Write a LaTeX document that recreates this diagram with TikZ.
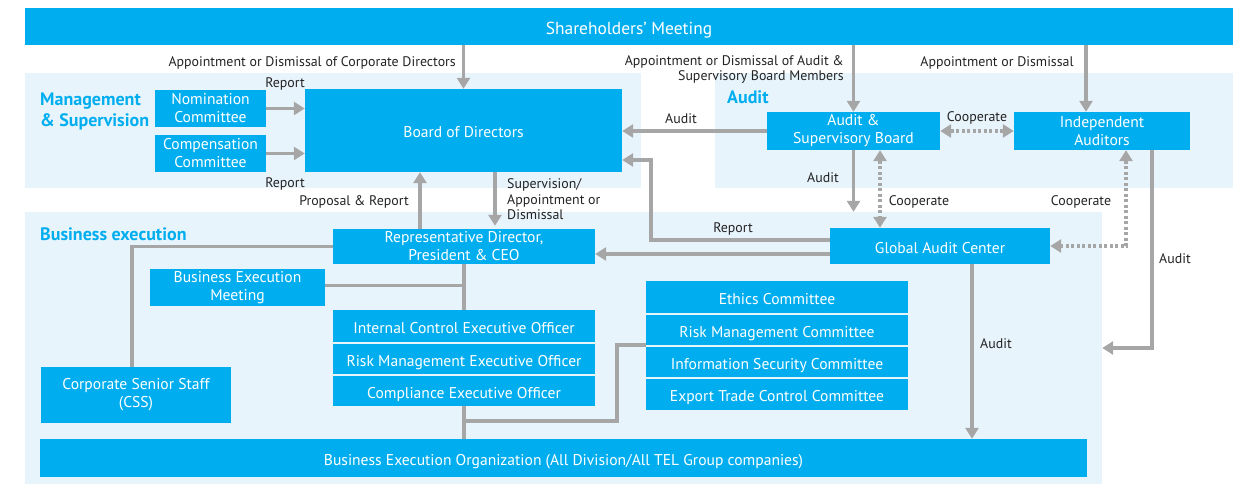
\documentclass[tikz,border=0pt]{standalone}
\usepackage{fontspec}
\setmainfont{PT Sans}
\usetikzlibrary{arrows.meta,calc}
\definecolor{boxc}{RGB}{0,174,239}
\definecolor{panelc}{RGB}{232,244,252}
\definecolor{linec}{RGB}{166,166,166}
\definecolor{txtc}{RGB}{35,35,35}
\newcommand{\rbox}[7]{\node[#1,minimum width={(#5-#3)*1pt},minimum height={(#6-#4)*1pt}] (#2) at ({(#3+#5)/2},{(#4+#6)/2}) {#7};}
\tikzset{
  box/.style={fill=boxc,text=white,inner sep=0pt,align=center,font=\fontsize{15.6}{18}\selectfont},
  boxone/.style={box,text height=14pt,text depth=0pt},
  panel/.style={fill=panelc,inner sep=0pt},
  lbl/.style={text=txtc,inner sep=0pt,yshift=-1.5pt,font=\fontsize{13.9}{15.5}\selectfont},
  ttl/.style={text=boxc,inner sep=0pt,align=left,font=\bfseries\fontsize{18}{21}\selectfont},
  ln/.style={draw=linec,line width=3.5pt},
  arr/.style={ln,-{Triangle[width=13pt,length=11pt]}},
  darr/.style={ln,dash pattern=on 3pt off 2.5pt,{Triangle[width=13pt,length=11pt]}-{Triangle[width=13pt,length=11pt]}},
}
\begin{document}
\begin{tikzpicture}[x=1pt,y=-1pt]
\useasboundingbox (0,0) rectangle (1233,484);
% panels
\rbox{panel}{mgmtpanel}{25}{73}{641}{188}{}
\rbox{panel}{auditpanel}{715}{73}{1233}{188}{}
\rbox{panel}{bizpanel}{25}{212}{1102}{484}{}
% titles
\node[ttl,anchor=west] (tmgmt) at (40,112) {Management\\\& Supervision};
\node[ttl,anchor=west] (taudit) at (727,97) {Audit};
\node[ttl,anchor=west] (tbiz) at (40,234) {Business execution};
% boxes
\rbox{boxone,text height=16.2pt,font=\fontsize{17.4}{19}\selectfont}{sh}{25}{8}{1233}{45}{Shareholders' Meeting}
\rbox{box}{nom}{155}{90}{266}{127}{Nomination\\Committee}
\rbox{box}{comp}{155}{135}{266}{172}{Compensation\\Committee}
\rbox{boxone}{bod}{305}{89}{622}{172}{Board of Directors}
\rbox{box}{asb}{767}{112}{940}{150}{Audit \&\\Supervisory Board}
\rbox{box}{ia}{1014}{112}{1190}{150}{Independent\\Auditors}
\rbox{box}{rep}{333}{229}{595}{264}{Representative Director,\\President \& CEO}
\rbox{boxone}{gac}{830}{228}{1050}{264}{Global Audit Center}
\rbox{box}{bem}{150}{269}{325}{306}{Business Execution\\Meeting}
\rbox{boxone}{ico}{333}{310}{595}{342}{Internal Control Executive Officer}
\rbox{boxone}{rmo}{333}{344}{595}{374}{Risk Management Executive Officer}
\rbox{boxone}{ceo}{333}{376}{595}{406}{Compliance Executive Officer}
\rbox{boxone}{eth}{646}{281}{908}{313}{Ethics Committee}
\rbox{boxone}{rmc}{646}{315}{908}{345}{Risk Management Committee}
\rbox{boxone}{isc}{646}{347}{908}{377}{Information Security Committee}
\rbox{boxone}{etc}{646}{379}{908}{410}{Export Trade Control Committee}
\rbox{box}{css}{41}{367}{231}{423}{Corporate Senior Staff\\(CSS)}
\rbox{boxone,text height=15pt}{beo}{40}{439}{1087}{477}{Business Execution Organization (All Division/All TEL Group companies)}
% labels
\node[lbl,anchor=east] (l1) at (456,61) {Appointment or Dismissal of Corporate Directors};
\node[lbl,anchor=east,align=right] (l2) at (844,68) {Appointment or Dismissal of Audit \&\\Supervisory Board Members};
\node[lbl] (l3) at (997,61) {Appointment or Dismissal};
\node[lbl] (l4) at (285,82) {Report};
\node[lbl] (l5) at (285,182) {Report};
\node[lbl] (l6) at (681,117) {Audit};
\node[lbl] (l7) at (977,116) {Cooperate};
\node[lbl] (l8) at (823,176) {Audit};
\node[lbl] (l9) at (919,200) {Cooperate};
\node[lbl] (l10) at (1081,200) {Cooperate};
\node[lbl] (l11) at (1175,257) {Audit};
\node[lbl] (l12) at (733,227) {Report};
\node[lbl] (l13) at (996,342) {Audit};
\node[lbl] (l14) at (354,200) {Proposal \& Report};
\node[lbl,anchor=west,align=left] (l15) at (507,198) {Supervision/\\Appointment or\\Dismissal};
% connectors
\draw[arr] (bod.north |- sh.south) -- (bod.north);
\draw[arr] (asb.north |- sh.south) -- (asb.north);
\draw[arr] ([xshift=-16pt]ia.north |- sh.south) -- ([xshift=-16pt]ia.north);
\draw[arr] (nom.east) -- (nom.east -| bod.west);
\draw[arr] (comp.east) -- (comp.east -| bod.west);
\draw[arr] (asb.west) -- (asb.west -| bod.east);
\draw[darr] (asb.east) -- (asb.east -| ia.west);
\draw[arr] (asb.south) -- (asb.south |- bizpanel.north);
\draw[darr] ([xshift=26.5pt]asb.south) -- ([xshift=26.5pt]asb.south |- gac.north);
\draw[arr] ([yshift=6pt]gac.west) -- ++(-179,0) |- ([yshift=-29.5pt]bod.east);
\draw[arr] ([yshift=-8pt]gac.west) -- ([yshift=-8pt]gac.west -| rep.east);
\draw[darr] ([xshift=24pt]ia.south) |- (gac.east);
\draw[arr] ([xshift=50pt]ia.south) |- (bizpanel.east);
\draw[arr] ([xshift=32pt]gac.south) -- ([xshift=32pt]gac.south |- beo.north);
\draw[arr] ([xshift=31.5pt]bod.south) -- ([xshift=31.5pt,yshift=3pt]bod.south |- rep.north);
\draw[arr] ([xshift=-43.5pt]bod.south |- rep.north) -- ([xshift=-43.5pt]bod.south);
\draw[ln] (rep.west) -| ([xshift=-4pt]css.north);
\draw[ln] ([yshift=2pt]bem.east) -- ([yshift=2pt]bem.east -| rep.south);
\draw[ln] (rep.south) -- (ico.north);
\draw[ln] (ceo.south) -- (ceo.south |- beo.north);
\coordinate (j) at ($(ceo.south)+(0,15)$);
\draw[ln] (rmc.south west) -- ++(-29,0) |- (j);
\end{tikzpicture}
\end{document}
